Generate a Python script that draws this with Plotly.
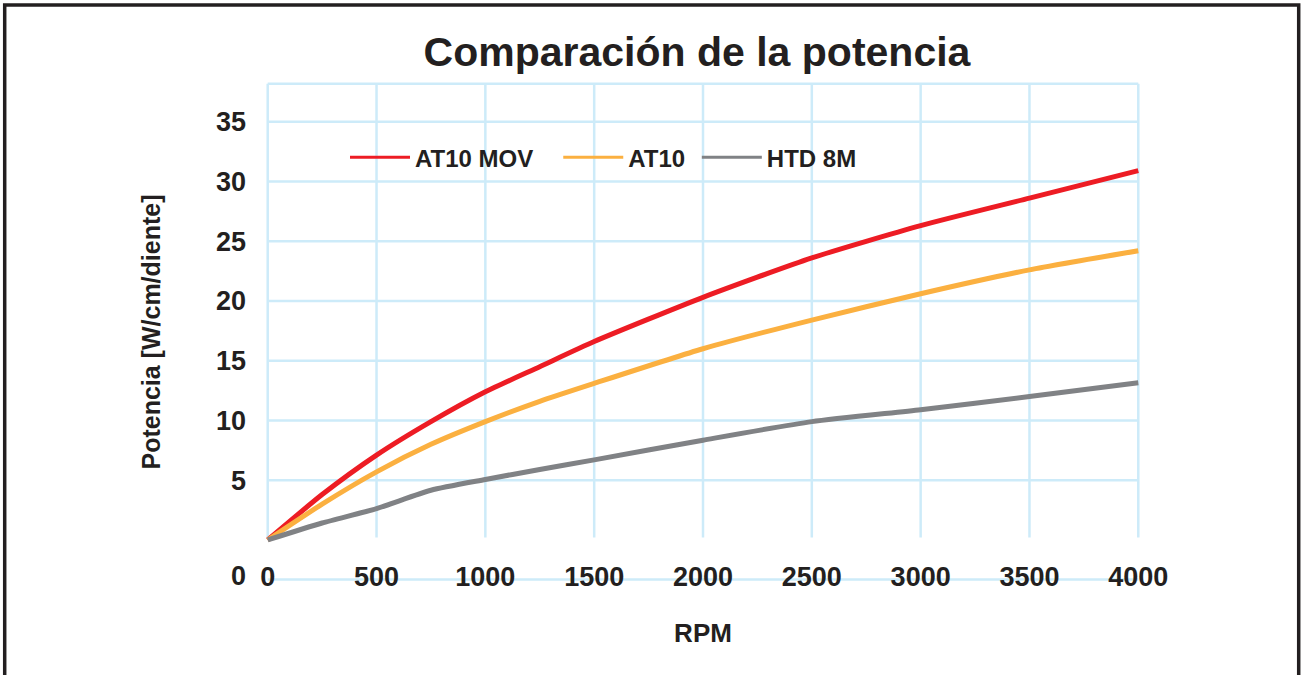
import plotly.graph_objects as go

# ---- data ----
rpm = [0, 250, 500, 750, 1000, 1250, 1500, 2000, 2500, 3000, 3500, 4000]
at10_mov = [0, 3.8, 7.1, 9.9, 12.4, 14.5, 16.6, 20.3, 23.6, 26.3, 28.6, 30.9]
at10 = [0, 3.0, 5.7, 8.0, 9.9, 11.6, 13.1, 16.0, 18.4, 20.6, 22.6, 24.2]
htd8m = [0, 1.42, 2.63, 4.16, 5.06, 5.9, 6.7, 8.35, 9.9, 10.9, 12.0, 13.15]

series_names = ["AT10 MOV", "AT10", "HTD 8M"]
series_values = [at10_mov, at10, htd8m]
series_colors = ["#ED1C24", "#FBB040", "#808285"]
legend_pad = ["\u00a0\u00a0\u00a0", "\u00a0", ""]

x_ticks = [0, 500, 1000, 1500, 2000, 2500, 3000, 3500, 4000]
y_ticks = [5, 10, 15, 20, 25, 30, 35]
y_bottom_line = -3.3
y_top_line = 38.17

TITLE = "Comparación de la potencia"
X_TITLE = "RPM"
Y_TITLE = "Potencia [W/cm/diente]"

# ---- layout geometry ----
W, H = 1303, 675
ML, MR, MT, MB = 259, 156, 81, 92
XR = [-40, 4040]
YR = [-3.6, 38.4]
PW = W - ML - MR
PH = H - MT - MB

def px_to_paper_x(px):
    return (px - ML) / PW

def py_to_paper_y(py):
    return (H - MB - py) / PH

TXT = "#231F20"
GRID = "#CDEBF9"
FONT = "Liberation Sans"

fig = go.Figure()

for name, vals, col in zip(series_names, series_values, series_colors):
    fig.add_trace(go.Scatter(
        x=rpm, y=vals, mode="lines", name=name, showlegend=False,
        line=dict(color=col, width=5, shape="spline", smoothing=0.6),
    ))
# legend entries (thinner sample lines, as in the reference)
for name, col, pad in zip(series_names, series_colors, legend_pad):
    fig.add_trace(go.Scatter(
        x=[None], y=[None], mode="lines", name=name + pad, showlegend=True,
        line=dict(color=col, width=3),
    ))

shapes = []
# vertical grid lines
for xv in x_ticks:
    shapes.append(dict(type="line", xref="x", yref="y", x0=xv, x1=xv, y0=0.2, y1=y_top_line,
                       line=dict(color=GRID, width=2.5), layer="below"))
# horizontal grid lines
for yv in y_ticks + [y_top_line, y_bottom_line]:
    shapes.append(dict(type="line", xref="x", yref="y", x0=x_ticks[0], x1=x_ticks[-1], y0=yv, y1=yv,
                       line=dict(color=GRID, width=2.5), layer="below"))
# outer frame
shapes.append(dict(type="rect", xref="paper", yref="paper",
                   x0=px_to_paper_x(4.7), x1=px_to_paper_x(1298.7),
                   y0=py_to_paper_y(720), y1=py_to_paper_y(4.9),
                   line=dict(color=TXT, width=3.5), fillcolor="rgba(0,0,0,0)", layer="above"))

fig.update_layout(
    width=W, height=H,
    margin=dict(l=ML, r=MR, t=MT, b=MB, autoexpand=False),
    paper_bgcolor="white", plot_bgcolor="white",
    font=dict(family=FONT, color=TXT, size=24, weight="bold"),
    title=dict(text=TITLE, x=697 / W, xanchor="center", xref="container",
               y=1 - 52 / H, yanchor="middle", yref="container",
               font=dict(family=FONT, size=41, weight="bold", color=TXT)),
    showlegend=True,
    legend=dict(orientation="h", x=px_to_paper_x(345), xanchor="left",
                y=py_to_paper_y(157.7), yanchor="middle",
                bgcolor="rgba(0,0,0,0)", borderwidth=0,
                font=dict(family=FONT, size=24, weight="bold", color=TXT),
                itemwidth=60),
    shapes=shapes,
    xaxis=dict(range=XR, tickvals=x_ticks, ticktext=[str(v) for v in x_ticks],
               showgrid=False, zeroline=False, showline=False, ticks="",
               anchor="free", position=py_to_paper_y(558),
               tickfont=dict(family=FONT, size=27, weight="bold", color=TXT),
               title=dict(text=X_TITLE, standoff=32,
                          font=dict(family=FONT, size=26, weight="bold", color=TXT))),
    yaxis=dict(range=YR, tickvals=[-3.0] + y_ticks, ticktext=["0"] + [str(v) for v in y_ticks],
               showgrid=False, zeroline=False, showline=False, ticks="",
               ticklabelstandoff=12,
               tickfont=dict(family=FONT, size=27, weight="bold", color=TXT),
               title=dict(text=Y_TITLE, standoff=48,
                          font=dict(family=FONT, size=25, weight="bold", color=TXT))),
)

fig.write_html("out.html", config={"displayModeBar": False},
               post_script="document.body.style.margin='0';")
